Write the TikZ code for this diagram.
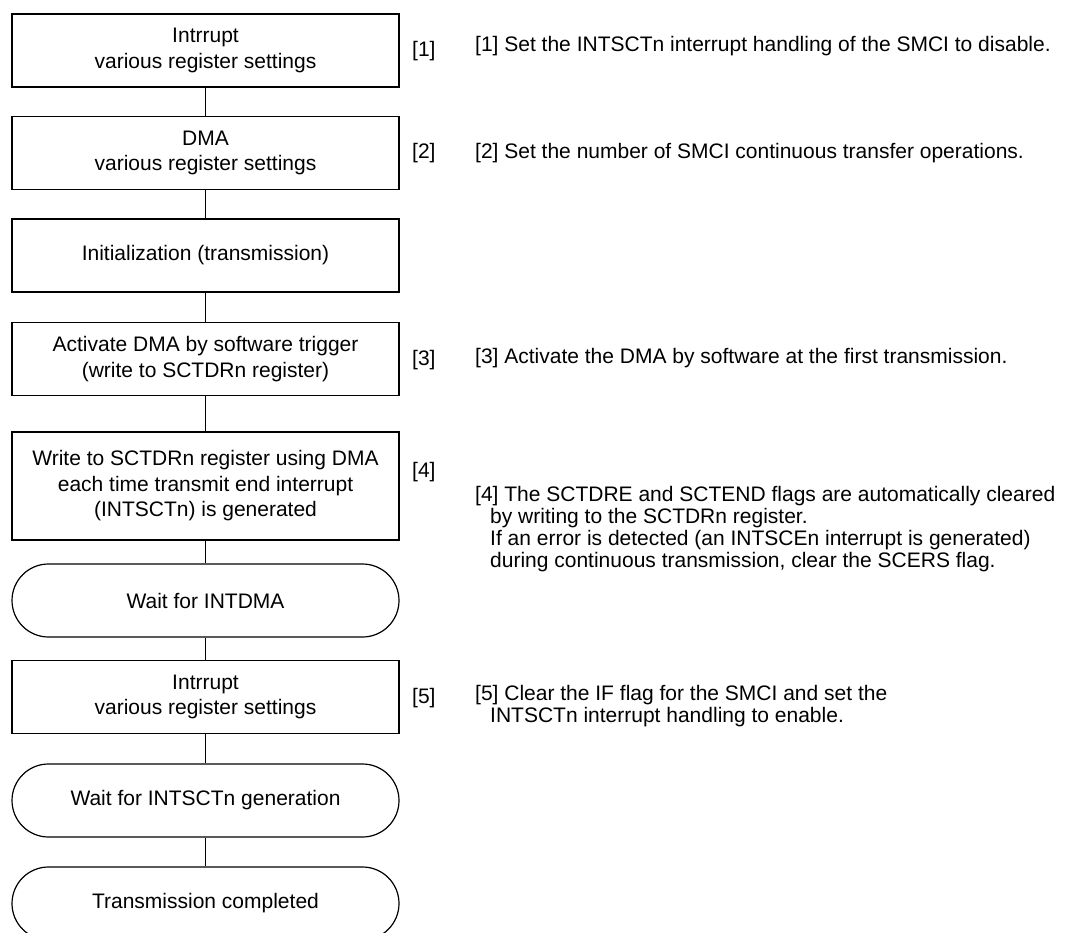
\documentclass[tikz,border=0pt]{standalone}
\usepackage{fontspec}
\setmainfont{Liberation Sans}
\begin{document}
\begin{tikzpicture}[x=1pt,y=-1pt,
  every node/.style={font=\fontsize{21}{25.5}\selectfont},
  flowbox/.style={draw, line width=1.2pt, minimum width=387pt, minimum height=73pt, inner sep=0pt, align=center},
  termbox/.style={flowbox, rounded corners=36.5pt},
  lbl/.style={anchor=base west, inner sep=0pt},
  desc/.style={anchor=base west, inner sep=0pt},
  link/.style={line width=1.2pt}]
\useasboundingbox (0,0) rectangle (1068,933);
\node[flowbox] (b1) at (205.5,50.5) {Intrrupt\\various register settings};
\node[flowbox] (b2) at (205.5,153) {DMA\\various register settings};
\node[flowbox] (b3) at (205.5,255.5) {Initialization (transmission)};
\node[flowbox] (b4) at (205.5,359) {Activate DMA by software trigger\\(write to SCTDRn register)};
\node[flowbox, minimum height=108pt] (b5) at (205.5,486) {Write to SCTDRn register using DMA\\each time transmit end interrupt\\(INTSCTn) is generated};
\node[termbox] (t1) at (205.5,600.5) {Wait for INTDMA};
\node[flowbox] (b7) at (205.5,697) {Intrrupt\\various register settings};
\node[termbox] (t2) at (205.5,800.5) {Wait for INTSCTn generation};
\node[termbox] (t3) at (205.5,903.5) {Transmission completed};
\draw[link] (b1) -- (b2);
\draw[link] (b2) -- (b3);
\draw[link] (b3) -- (b4);
\draw[link] (b4) -- (b5);
\draw[link] (b5) -- (t1);
\draw[link] (t1) -- (b7);
\draw[link] (b7) -- (t2);
\draw[link] (t2) -- (t3);
\node[lbl] (l1) at (412,57) {[1]};
\node[lbl] (l2) at (412,159) {[2]};
\node[lbl] (l3) at (412,365) {[3]};
\node[lbl] (l4) at (412,477) {[4]};
\node[lbl] (l5) at (412,703) {[5]};
\node[desc] (d1) at (475,52) {[1] Set the INTSCTn interrupt handling of the SMCI to disable.};
\node[desc] (d2) at (475,159) {[2] Set the number of SMCI continuous transfer operations.};
\node[desc] (d3) at (475,363) {[3] Activate the DMA by software at the first transmission.};
\node[desc] (d4a) at (475,501.5) {[4] The SCTDRE and SCTEND flags are automatically cleared};
\node[desc] (d4b) at (490,523.5) {by writing to the SCTDRn register.};
\node[desc] (d4c) at (490,545.5) {If an error is detected (an INTSCEn interrupt is generated)};
\node[desc] (d4d) at (490,567.5) {during continuous transmission, clear the SCERS flag.};
\node[desc] (d5a) at (475,700) {[5] Clear the IF flag for the SMCI and set the};
\node[desc] (d5b) at (490,722) {INTSCTn interrupt handling to enable.};
\end{tikzpicture}
\end{document}
